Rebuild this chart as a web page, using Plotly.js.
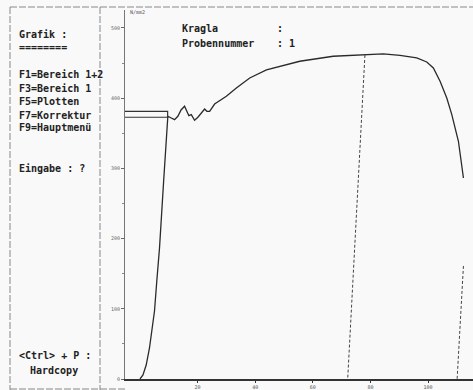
<!DOCTYPE html>
<html>
<head>
<meta charset="utf-8">
<script src="https://cdn.plot.ly/plotly-3.0.1.min.js"></script>
<style>html,body{margin:0;padding:0;background:#f9f9f9;}#chart{width:473px;height:390px;}</style>
</head>
<body>
<div id="chart"></div>
<script>
// Stress-strain curve (Spannung N/mm2 vs. Dehnung)
const strain = [0, 1.04, 2.16, 3.30, 4.10, 5.04, 5.84, 6.78, 8.17, 9.67, 10.85, 12.0, 13.15, 14.26, 15.48, 16.28, 16.97, 17.81, 18.96, 20.1, 21.29, 22.43, 23.23, 24.17, 25.91, 27.65, 29.98, 33.46, 38.09, 43.9, 55.48, 67.06, 78.09, 84.45, 90.26, 96.07, 99.55, 101.84, 104.17, 106.5, 108.24, 110.54, 112.28];
const stress = [0, 5.7, 19.9, 44.2, 68.4, 96.9, 139.6, 186.6, 279.2, 374.2, 371.8, 369.4, 374.2, 383.2, 388.5, 381.3, 375.1, 376.5, 368.5, 372.8, 378.9, 384.6, 381.3, 381.3, 391.7, 396.4, 402.7, 414.5, 428.8, 440.2, 452.6, 459.7, 462.0, 463.0, 461.1, 457.3, 451.6, 443.0, 424.1, 400.3, 376.5, 338.6, 286.3];
// Unloading lines
const unload1X = [78.09, 72.1];
const unload1Y = [461.5, 0];
const unload2X = [112.28, 110.09];
const unload2Y = [161, 0];
// Yield markers (ReH / ReL)
const reH = 381.3;
const reL = 372.8;
const markX = [-5.2, 9.6, 9.6, -5.2];
const markY = [reH, reH, reL, reL];

const yTicks = [0, 100, 200, 300, 400, 500];
const xTicks = [20, 40, 60, 80, 100];

const menuLines = ["Grafik :", "========", "", "F1=Bereich 1+2", "F3=Bereich 1", "F5=Plotten", "F7=Korrektur", "F9=Hauptmenü"];

const traces = [
  {x: strain, y: stress, mode: 'lines', line: {color: '#2a2a2a', width: 1.3}, hoverinfo: 'skip'},
  {x: unload1X, y: unload1Y, mode: 'lines', line: {color: '#444', width: 1, dash: '3px,2px'}, hoverinfo: 'skip'},
  {x: unload2X, y: unload2Y, mode: 'lines', line: {color: '#444', width: 1, dash: '3px,2px'}, hoverinfo: 'skip'},
  {x: markX, y: markY, mode: 'lines', line: {color: '#333', width: 1.2}, hoverinfo: 'skip'}
];

const L = 125, R = 473, T = 10, B = 379;
const px = v => (v - L) / (R - L);
const py = v => (B - v) / (B - T);

const mono = {family: 'DejaVu Sans Mono, monospace', size: 10, color: '#222', weight: 'bold'};
const ann = [];
const menuY = [34, 47, 0, 74, 88, 101, 115, 128];
menuLines.forEach((t, i) => {
  if (t) ann.push({text: t, x: px(17), y: py(menuY[i]), xref: 'paper', yref: 'paper', xanchor: 'left', yanchor: 'middle', showarrow: false, font: mono});
});
ann.push({text: 'Eingabe : ?', x: px(17), y: py(168), xref: 'paper', yref: 'paper', xanchor: 'left', yanchor: 'middle', showarrow: false, font: mono});
ann.push({text: '&lt;Ctrl&gt; + P :', x: px(17), y: py(355), xref: 'paper', yref: 'paper', xanchor: 'left', yanchor: 'middle', showarrow: false, font: mono});
ann.push({text: 'Hardcopy', x: px(28), y: py(370), xref: 'paper', yref: 'paper', xanchor: 'left', yanchor: 'middle', showarrow: false, font: mono});
ann.push({text: 'Kragla', x: px(180), y: py(29), xref: 'paper', yref: 'paper', xanchor: 'left', yanchor: 'middle', showarrow: false, font: mono});
ann.push({text: ':', x: px(275), y: py(29), xref: 'paper', yref: 'paper', xanchor: 'left', yanchor: 'middle', showarrow: false, font: mono});
ann.push({text: 'Probennummer', x: px(180), y: py(43), xref: 'paper', yref: 'paper', xanchor: 'left', yanchor: 'middle', showarrow: false, font: mono});
ann.push({text: ': 1', x: px(275), y: py(43), xref: 'paper', yref: 'paper', xanchor: 'left', yanchor: 'middle', showarrow: false, font: mono});
ann.push({text: 'N/mm2', x: px(128), y: py(12), xref: 'paper', yref: 'paper', xanchor: 'left', yanchor: 'middle', showarrow: false, font: {family: 'DejaVu Sans Mono, monospace', size: 5, color: '#555'}});

const frame = {color: '#888', width: 1, dash: '7px,2px'};
const shapes = [
  {type: 'line', xref: 'paper', yref: 'paper', x0: px(10), x1: px(473), y0: py(7), y1: py(7), line: frame},
  {type: 'line', xref: 'paper', yref: 'paper', x0: px(10), x1: px(10), y0: py(7), y1: py(390), line: frame},
  {type: 'line', xref: 'paper', yref: 'paper', x0: px(100), x1: px(100), y0: py(7), y1: py(390), line: frame},
  {type: 'line', xref: 'paper', yref: 'paper', x0: px(10), x1: px(125), y0: py(389), y1: py(389), line: frame}
];

const layout = {
  width: 473, height: 390,
  margin: {l: L, r: 473 - R, t: T, b: 390 - B, pad: 0},
  paper_bgcolor: '#f9f9f9', plot_bgcolor: '#f9f9f9',
  showlegend: false,
  xaxis: {range: [-5.2, 115.6], tickvals: xTicks, ticktext: xTicks.map(String), showgrid: false, zeroline: false,
          showline: true, linecolor: '#333', linewidth: 2, ticks: 'outside', ticklen: 2, tickcolor: '#333',
          ticklabelstandoff: 0,
          tickfont: {family: 'DejaVu Sans Mono, monospace', size: 5, color: '#555'}, fixedrange: true},
  yaxis: {range: [0, 525.6], tickvals: yTicks, ticktext: yTicks.map(String), showgrid: false, zeroline: false,
          showline: true, linecolor: '#777', linewidth: 1, ticks: 'outside', ticklen: 3, tickcolor: '#666',
          minor: {tickvals: [50, 150, 250, 350, 450], ticks: 'outside', ticklen: 2, tickcolor: '#888'},
          tickfont: {family: 'DejaVu Sans Mono, monospace', size: 5, color: '#666'}, fixedrange: true},
  annotations: ann,
  shapes: shapes
};

Plotly.newPlot('chart', traces, layout, {displayModeBar: false, staticPlot: true});
</script>
</body>
</html>
